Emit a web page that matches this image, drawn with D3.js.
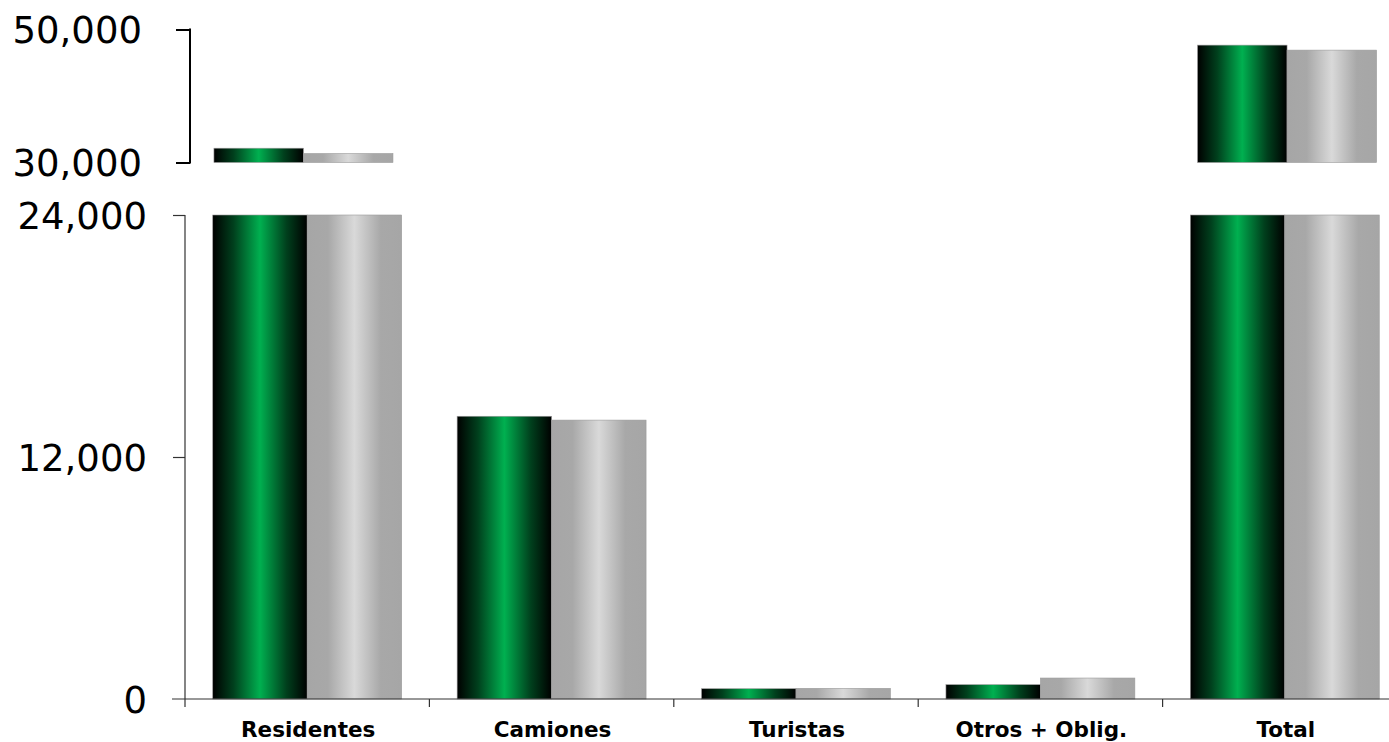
<!DOCTYPE html>
<html>
<head>
<meta charset="utf-8">
<script src="https://cdn.jsdelivr.net/npm/d3@7"></script>
<style>
  html, body { margin: 0; padding: 0; background: #fff; }
  svg { display: block; }
</style>
</head>
<body>
<div id="chart"></div>
<script>
// Vehicle counts by category, two periods (green = current, gray = previous)
const categories = ["Residentes", "Camiones", "Turistas", "Otros + Oblig.", "Total"];
const seriesNames = ["actual", "anterior"];
const valuesActual = [32150, 14020, 510, 710, 47650];
const valuesAnterior = [31350, 13830, 530, 1040, 46900];
const lowerTicks = [0, 12000, 24000];
const upperTicks = [30000, 50000];
const lowerMax = 24000;
const upperDomain = [30000, 50000];

const W = 1389, H = 742;
const svg = d3.select("#chart").append("svg").attr("width", W).attr("height", H);

const defs = svg.append("defs");
const gGreen = defs.append("linearGradient").attr("id", "gradGreen")
  .attr("x1", "0%").attr("x2", "100%").attr("y1", "0%").attr("y2", "0%");
[["0%", "#000000"], ["22%", "#00401d"], ["50%", "#00b050"], ["78%", "#00401d"], ["100%", "#000000"]]
  .forEach(([o, c]) => gGreen.append("stop").attr("offset", o).attr("stop-color", c));
const gGray = defs.append("linearGradient").attr("id", "gradGray")
  .attr("x1", "0%").attr("x2", "100%").attr("y1", "0%").attr("y2", "0%");
[["0%", "#a6a6a6"], ["22%", "#a8a8a8"], ["50%", "#d9d9d9"], ["78%", "#a8a8a8"], ["100%", "#a6a6a6"]]
  .forEach(([o, c]) => gGray.append("stop").attr("offset", o).attr("stop-color", c));
const fills = { actual: "url(#gradGreen)", anterior: "url(#gradGray)" };

const rows = categories.map((c, i) => ({ cat: c, actual: valuesActual[i], anterior: valuesAnterior[i] }));

// ---- lower panel: 0 to 24,000 ----
const xLow = d3.scaleBand().domain(categories).range([185, 1407]);
const subLow = d3.scaleBand().domain(seriesNames).range([0, xLow.bandwidth() * 0.773]);
const yLow = d3.scaleLinear().domain([0, lowerMax]).range([699, 215]).clamp(true);

const lower = svg.append("g");
lower.selectAll("g.grp").data(rows).join("g")
  .attr("transform", d => `translate(${xLow(d.cat) + (xLow.bandwidth() - subLow.range()[1]) / 2},0)`)
  .selectAll("rect").data(d => seriesNames.map(s => ({ s, v: d[s] }))).join("rect")
  .attr("x", d => subLow(d.s))
  .attr("width", subLow.bandwidth())
  .attr("y", d => yLow(d.v))
  .attr("height", d => yLow(0) - yLow(d.v))
  .attr("fill", d => fills[d.s])
  .attr("stroke", "#9a9a9a").attr("stroke-width", 0.6);

// lower y axis
const yAxisLow = d3.axisLeft(yLow).tickValues(lowerTicks).tickSize(12).tickPadding(26)
  .tickFormat(d3.format(","));
const gyl = svg.append("g").attr("transform", "translate(185,0)").call(yAxisLow);
gyl.select(".domain").remove();
gyl.append("line").attr("x1", 0).attr("x2", 0).attr("y1", 215).attr("y2", 707)
  .attr("stroke", "#333").attr("stroke-width", 1.2);
gyl.selectAll(".tick line").attr("stroke", "#333").attr("stroke-width", 1.2);
gyl.selectAll(".tick").filter(d => d === 0).select("line").remove();
gyl.selectAll("text").attr("font-family", "DejaVu Sans, Verdana, sans-serif")
  .attr("font-size", 37).attr("fill", "#000").attr("dy", "0.36em");

// x axis
const gx = svg.append("g");
gx.append("line").attr("x1", 172).attr("x2", W).attr("y1", 699).attr("y2", 699)
  .attr("stroke", "#333").attr("stroke-width", 1.2);
gx.selectAll("line.sep").data(categories.slice(1)).join("line")
  .attr("class", "sep")
  .attr("x1", d => xLow(d)).attr("x2", d => xLow(d))
  .attr("y1", 699).attr("y2", 707).attr("stroke", "#333").attr("stroke-width", 1.2);
gx.selectAll("text").data(categories).join("text")
  .attr("x", d => xLow(d) + xLow.bandwidth() / 2 + 1)
  .attr("y", 737)
  .attr("text-anchor", "middle")
  .attr("font-family", "DejaVu Sans, Verdana, sans-serif")
  .attr("font-weight", "bold").attr("font-size", 21.5).attr("fill", "#000")
  .text(d => d);

// ---- upper panel: 30,000 to 50,000 ----
const xUp = d3.scaleBand().domain(categories).range([180.5, 1410]);
const subUp = d3.scaleBand().domain(seriesNames).range([0, xUp.bandwidth() * 0.728]);
const yUp = d3.scaleLinear().domain(upperDomain).range([162.5, 29.5]);

const upperRows = rows.filter(d => d.actual > upperDomain[0] || d.anterior > upperDomain[0]);
svg.append("g").selectAll("g.grp").data(upperRows).join("g")
  .attr("transform", d => `translate(${xUp(d.cat) + (xUp.bandwidth() - subUp.range()[1]) / 2},0)`)
  .selectAll("rect").data(d => seriesNames.map(s => ({ s, v: d[s] }))).join("rect")
  .attr("x", d => subUp(d.s))
  .attr("width", subUp.bandwidth())
  .attr("y", d => yUp(d.v))
  .attr("height", d => yUp(upperDomain[0]) - yUp(d.v))
  .attr("fill", d => fills[d.s])
  .attr("stroke", "#9a9a9a").attr("stroke-width", 0.6);

const yAxisUp = d3.axisLeft(yUp).tickValues(upperTicks).tickSize(14).tickPadding(34)
  .tickFormat(d3.format(","));
const gyu = svg.append("g").attr("transform", "translate(190,0)").call(yAxisUp);
gyu.select(".domain").remove();
gyu.append("line").attr("x1", 0).attr("x2", 0).attr("y1", 28.5).attr("y2", 163.5)
  .attr("stroke", "#000").attr("stroke-width", 2);
gyu.selectAll(".tick line").attr("stroke", "#000").attr("stroke-width", 2);
gyu.selectAll("text").attr("font-family", "DejaVu Sans, Verdana, sans-serif")
  .attr("font-size", 37).attr("fill", "#000").attr("dy", "0.36em");
</script>
</body>
</html>
